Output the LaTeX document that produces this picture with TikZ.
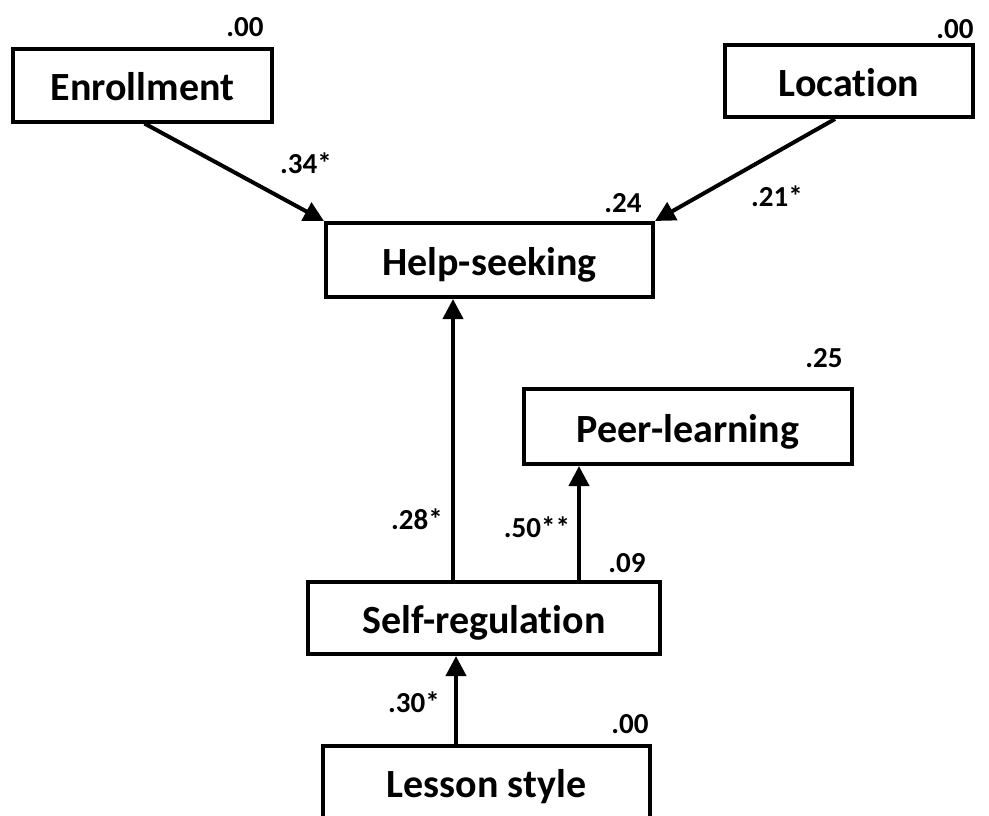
\documentclass[tikz,border=0pt]{standalone}
\usepackage{fontspec}
\setmainfont{Carlito}[Ligatures=NoCommon]
\usetikzlibrary{arrows.meta}
\begin{document}
\begin{tikzpicture}[x=1pt,y=-1pt,
  varbox/.style={draw=black,line width=4pt,fill=white,rectangle,inner sep=0pt,
    font=\fontsize{40}{46}\selectfont\bfseries,text height=31pt,text depth=0pt},
  coef/.style={font=\fontsize{29}{33}\selectfont\bfseries,inner sep=0pt},
  path/.style={line width=4pt,-{Triangle[length=20pt,width=20pt]}}]
\useasboundingbox (0,0) rectangle (989,815);
\clip (0,0) rectangle (989,815);
\node[varbox,minimum width=259pt,minimum height=73pt] (enr) at (142.5,85) {Enrollment};
\node[varbox,minimum width=248pt,minimum height=72pt] (loc) at (849,81) {Location};
\node[varbox,minimum width=327pt,minimum height=74pt] (hs) at (489.5,260) {Help-seeking};
\node[varbox,minimum width=328pt,minimum height=75pt] (pl) at (688,426.5) {Peer-learning};
\node[varbox,minimum width=352pt,minimum height=72pt] (sr) at (484,618) {Self-regulation};
\node[varbox,minimum width=327pt,minimum height=72pt] (ls) at (486.5,782) {Lesson style};
\coordinate (xa) at (453,0);
\coordinate (xb) at (579,0);
\coordinate (xc) at (456,0);
\draw[path] ([xshift=2pt]enr.south) -- (hs.north west);
\draw[path] ([xshift=-14pt]loc.south) -- (hs.north east);
\draw[path] (sr.north -| xa) -- (hs.south -| xa);
\draw[path] (sr.north -| xb) -- (pl.south -| xb);
\draw[path] (ls.north -| xc) -- (sr.south -| xc);
\node[coef] (c1) at (245,27) {.00};
\node[coef] (c2) at (955,29) {.00};
\node[coef] (c3) at (306,163) {.34*};
\node[coef] (c4) at (777,196) {.21*};
\node[coef] (c5) at (623,203) {.24};
\node[coef] (c6) at (824,358) {.25};
\node[coef] (c7) at (417,519) {.28*};
\node[coef] (c8) at (537,527) {.50**};
\node[coef] (c9) at (627,563) {.09};
\node[coef] (c10) at (414,702) {.30*};
\node[coef] (c11) at (630,724) {.00};
\end{tikzpicture}
\end{document}
